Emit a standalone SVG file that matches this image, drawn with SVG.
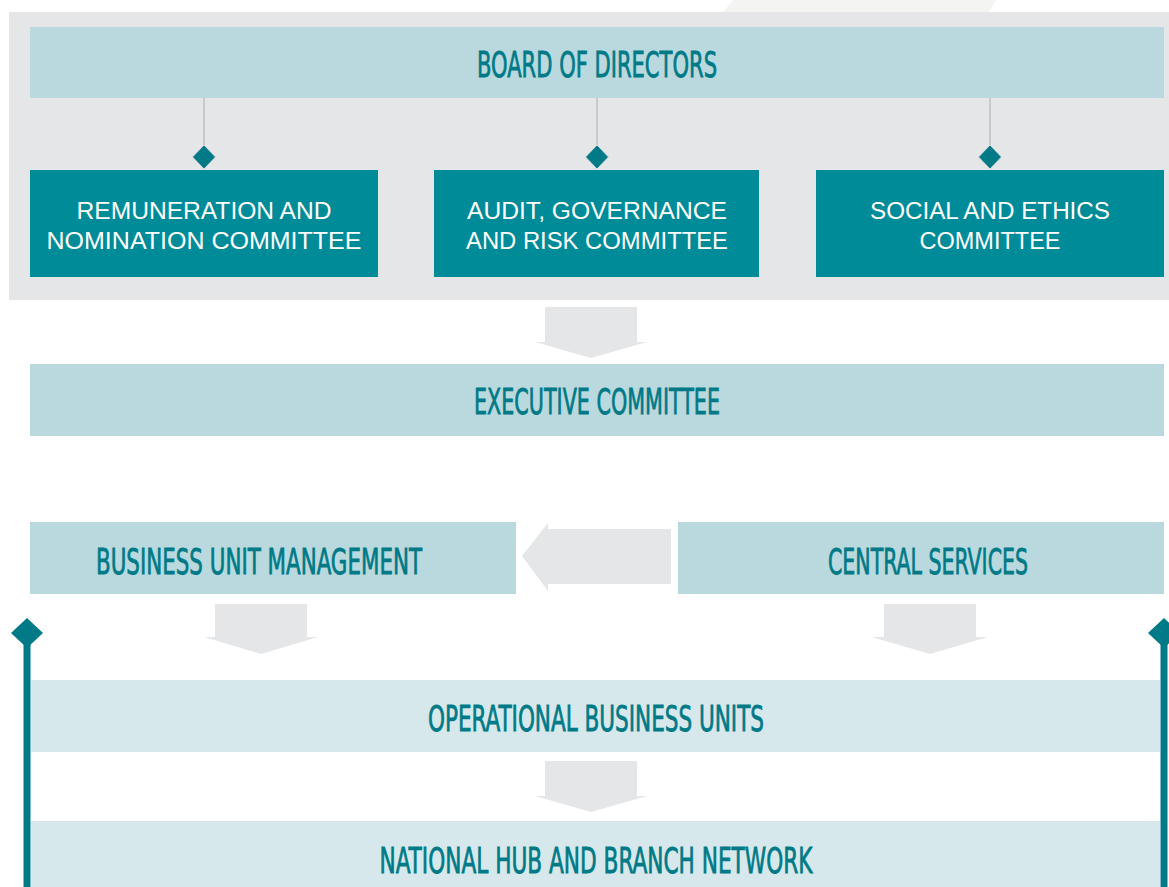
<svg xmlns="http://www.w3.org/2000/svg" width="1169" height="887" viewBox="0 0 1169 887">
  <style>
    .panel { fill: #e5e6e8; }
    .band { fill: #bad9de; }
    .band-light { fill: #d7e8ec; }
    .committee { fill: #008b99; }
    .flow { fill: #e5e6e8; }
    .link { stroke: #c9cacc; stroke-width: 2; fill: none; }
    .rail { stroke: #007a87; stroke-width: 7; fill: none; }
    .knot { fill: #007a87; }
    .head { font-family: "Liberation Sans Narrow", "DejaVu Sans Condensed", "Liberation Sans", sans-serif; font-stretch: condensed; font-size: 36px; fill: #007a87; stroke: #007a87; stroke-width: 0.8px; text-anchor: middle; }
    .label { font-family: "Liberation Sans", "DejaVu Sans", sans-serif; font-size: 23px; fill: #ffffff; text-anchor: middle; }
  </style>

  <rect width="1169" height="887" fill="#ffffff"/>
  <!-- faint backdrop shape at top -->
  <polygon points="733,0 996,0 989,12 723,12" fill="#f4f4f3"/>
  <!-- governance panel -->
  <rect class="panel" x="9" y="12" width="1160" height="288"/>

  <g id="connectors">
    <line class="link" x1="204" y1="98" x2="204" y2="150"/>
    <line class="link" x1="597" y1="98" x2="597" y2="150"/>
    <line class="link" x1="990" y1="98" x2="990" y2="150"/>
    <polygon class="knot" points="204,145 215.5,157 204,169 192.5,157" stroke="#d9dadc" stroke-width="1"/>
    <polygon class="knot" points="597,145 608.5,157 597,169 585.5,157" stroke="#d9dadc" stroke-width="1"/>
    <polygon class="knot" points="990,145 1001.5,157 990,169 978.5,157" stroke="#d9dadc" stroke-width="1"/>

    <!-- block arrows -->
    <polygon class="flow" points="545,307 637,307 637,342 647,342 591,358 535,342 545,342"/>
    <polygon class="flow" points="671,529 548,529 548,523 522,556 548,591 548,584 671,584"/>
    <polygon class="flow" points="215,604 307,604 307,637 318,637 261,654 204,637 215,637"/>
    <polygon class="flow" points="884,604 976,604 976,637 988,637 930,654 872,637 884,637"/>
    <polygon class="flow" points="545,761 637,761 637,796 647,796 591,812 535,796 545,796"/>

    <!-- side rails -->
    <line class="rail" x1="27" y1="640" x2="27" y2="887"/>
    <polygon class="knot" points="27,618 43,633 27,648 11,633"/>
    <line class="rail" x1="1164" y1="640" x2="1164" y2="887"/>
    <polygon class="knot" points="1164,618 1180,633 1164,648 1148,633"/>
  </g>

  <g id="board">
    <rect class="band" x="30" y="27" width="1134" height="71"/>
    <text class="head" x="597" y="77" textLength="240" lengthAdjust="spacingAndGlyphs">BOARD OF DIRECTORS</text>
  </g>

  <g id="remuneration">
    <rect class="committee" x="30" y="170" width="348" height="107"/>
    <text class="label" x="204" y="219" textLength="255" lengthAdjust="spacingAndGlyphs">REMUNERATION AND</text>
    <text class="label" x="204" y="249" textLength="315" lengthAdjust="spacingAndGlyphs">NOMINATION COMMITTEE</text>
  </g>

  <g id="audit">
    <rect class="committee" x="434" y="170" width="325" height="107"/>
    <text class="label" x="597" y="219" textLength="260" lengthAdjust="spacingAndGlyphs">AUDIT, GOVERNANCE</text>
    <text class="label" x="597" y="249" textLength="262" lengthAdjust="spacingAndGlyphs">AND RISK COMMITTEE</text>
  </g>

  <g id="social">
    <rect class="committee" x="816" y="170" width="348" height="107"/>
    <text class="label" x="990" y="219" textLength="240" lengthAdjust="spacingAndGlyphs">SOCIAL AND ETHICS</text>
    <text class="label" x="990" y="249" textLength="141" lengthAdjust="spacingAndGlyphs">COMMITTEE</text>
  </g>

  <g id="executive">
    <rect class="band" x="30" y="364" width="1134" height="72"/>
    <text class="head" x="597" y="414" textLength="246" lengthAdjust="spacingAndGlyphs">EXECUTIVE COMMITTEE</text>
  </g>

  <g id="business-unit-management">
    <rect class="band" x="30" y="522" width="486" height="72"/>
    <text class="head" x="259" y="574" textLength="326" lengthAdjust="spacingAndGlyphs">BUSINESS UNIT MANAGEMENT</text>
  </g>

  <g id="central-services">
    <rect class="band" x="678" y="522" width="486" height="72"/>
    <text class="head" x="928" y="574" textLength="200" lengthAdjust="spacingAndGlyphs">CENTRAL SERVICES</text>
  </g>

  <g id="operational-units">
    <rect class="band-light" x="31" y="680" width="1129" height="72"/>
    <text class="head" x="596" y="731" textLength="336" lengthAdjust="spacingAndGlyphs">OPERATIONAL BUSINESS UNITS</text>
  </g>

  <g id="hub-network">
    <rect class="band-light" x="31" y="821" width="1129" height="66"/>
    <text class="head" x="596" y="873" textLength="433" lengthAdjust="spacingAndGlyphs">NATIONAL HUB AND BRANCH NETWORK</text>
  </g>
</svg>
